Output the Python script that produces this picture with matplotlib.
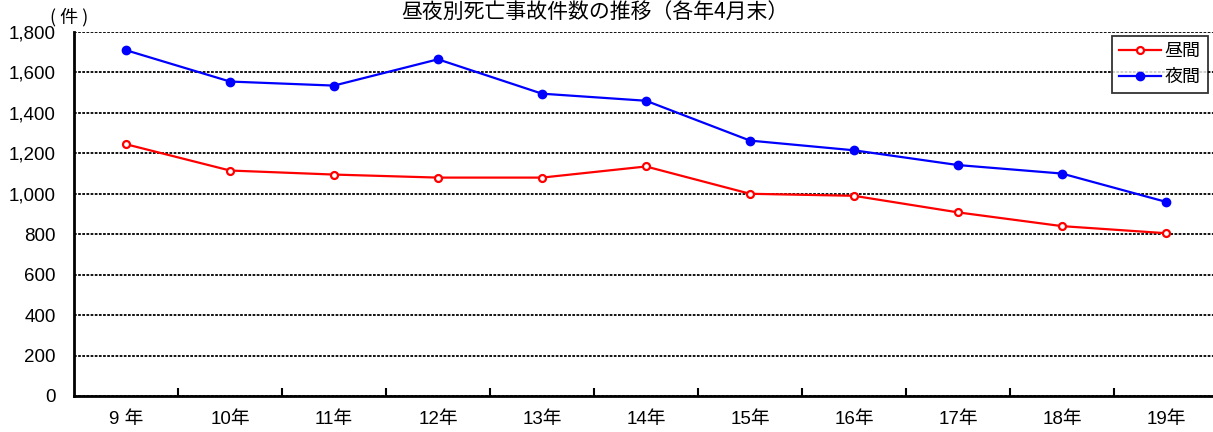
import matplotlib.pyplot as plt
import numpy as np

plt.rcParams['font.family'] = ['Liberation Sans', 'Noto Sans CJK JP']

# data
years = ['9 年', '10年', '11年', '12年', '13年', '14年', '15年', '16年', '17年', '18年', '19年']
daytime = [1245, 1115, 1095, 1080, 1080, 1135, 1000, 990, 908, 840, 805]
night = [1710, 1555, 1535, 1665, 1495, 1460, 1263, 1215, 1142, 1100, 960]

fig = plt.figure(figsize=(12.13, 4.32), dpi=100)
ax = fig.add_axes([74 / 1213, 36 / 432, 1144 / 1213, 364 / 432])

x = np.arange(len(years))
ax.plot(x, daytime, color='red', lw=1.6, marker='o', ms=5, mfc='white',
        mec='red', mew=1.6, label='昼間')
ax.plot(x, night, color='blue', lw=1.6, marker='o', ms=6, label='夜間')

ax.set_xlim(-0.5, len(years) - 0.5)
ax.set_ylim(0, 1800)
ax.set_yticks(range(0, 1801, 200))
ax.set_yticklabels([f'{v:,}' for v in range(0, 1801, 200)], fontsize=13.5)
ax.yaxis.grid(True, color='black', linestyle=(0, (1.5, 0.8)), lw=1.3)
ax.set_axisbelow(True)
ax.tick_params(axis='y', length=0, pad=13)

# tick marks between categories, labels at centres
ax.set_xticks(np.arange(0.5, len(years) - 1, 1.0))
ax.set_xticklabels([])
ax.set_xticks(x, minor=True)
ax.set_xticklabels(years, minor=True, fontsize=13.5)
ax.tick_params(axis='x', which='major', direction='in', length=6, width=1.5)
ax.tick_params(axis='x', which='minor', length=0, pad=11)

for s in ['top', 'right']:
    ax.spines[s].set_visible(False)
ax.spines['left'].set_linewidth(2)
ax.spines['bottom'].set_linewidth(2)

leg = ax.legend(loc='upper right', bbox_to_anchor=(1207 / 1218, 0.99),
                fontsize=13, frameon=True, fancybox=False, edgecolor='black',
                handlelength=2.3, handletextpad=0.2, borderpad=0.4,
                labelspacing=0.5, borderaxespad=0)
leg.get_frame().set_linewidth(1.3)

fig.text(50 / 1213, 1 - 17 / 432, '( 件 )', fontsize=13, ha='left', va='center',
         family='Noto Sans CJK JP')
fig.text(595 / 1213, 1 - 1 / 432, '昼夜別死亡事故件数の推移（各年4月末）',
         fontsize=15, ha='center', va='top', family='Noto Sans CJK JP')

plt.savefig('out.png')
